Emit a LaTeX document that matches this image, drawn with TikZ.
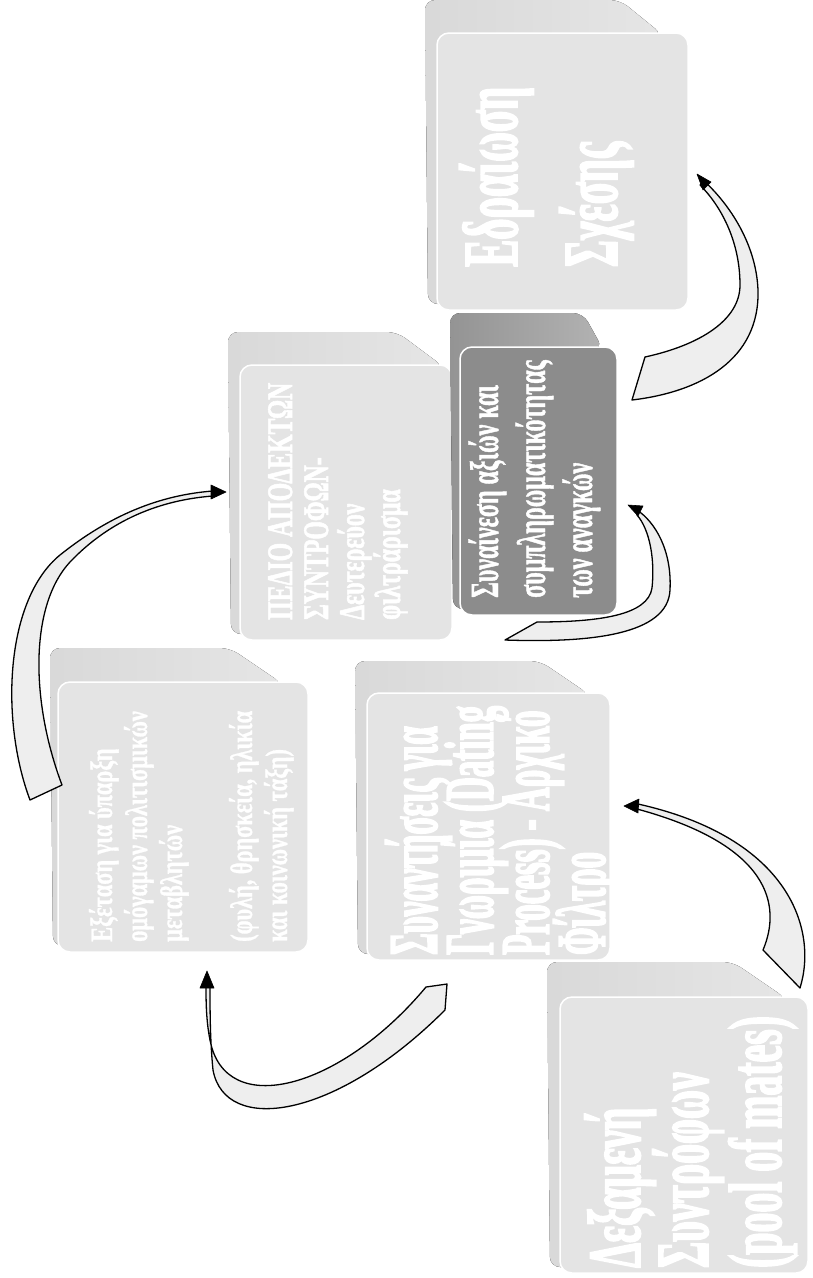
\documentclass[tikz,border=0pt]{standalone}
\usepackage{fontspec}
\setmainfont{Liberation Serif}
\newfontfamily\fA[UprightFont={* Bold}, FakeStretch=0.53, FakeBold=2]{Liberation Serif}
\newfontfamily\fB[UprightFont={* Bold}, FakeStretch=0.47, FakeBold=2]{Liberation Serif}
\newfontfamily\fC[UprightFont={* Bold}, FakeStretch=0.72, FakeBold=1]{Liberation Serif}
\newfontfamily\fD[UprightFont={* Bold}, FakeStretch=0.66, FakeBold=1.5]{Liberation Serif}
\newfontfamily\fE[UprightFont={* Bold}, FakeStretch=0.60, FakeBold=1]{Liberation Serif}
\newfontfamily\fF[UprightFont={* Bold}, FakeStretch=0.52, FakeBold=2]{Liberation Serif}
\definecolor{boxgray}{RGB}{228,228,228}
\definecolor{darkfront}{RGB}{140,140,140}
\definecolor{arrowfill}{RGB}{238,238,238}
\newcommand\drawcube[9]{%
  \fill[#9slab, rounded corners=10pt] ({#1-#5+3},{#4-6}) -- ({#1-#5},{#2-#6}) -- ({#3-#7},{#2-#6}) -- ({#3-#8},{#2+2}) -- ({#1+12},{#2+12}) -- ({#1+12},{#4-6}) -- cycle;
  \draw[#9front] (#1,#2) rectangle (#3,#4);
}
\begin{document}
\begin{tikzpicture}[x=1pt,y=-1pt,
  lslab/.style={left color=black!15, right color=black!10},
  lfront/.style={fill=boxgray, draw=white, line width=1.5pt, rounded corners=12pt},
  dslab/.style={left color=black!42, right color=black!30},
  dfront/.style={fill=darkfront, draw=white, line width=1.5pt, rounded corners=12pt},
  txt/.style={text=white, inner sep=0pt, anchor=base west, rotate=90},
  tA/.style={txt, font=\fA\fontsize{75}{75}\selectfont},
  tB/.style={txt, font=\fB\fontsize{70}{70}\selectfont},
  tC/.style={txt, font=\fC\fontsize{31}{31}\selectfont},
  tD/.style={txt, font=\fD\fontsize{36}{36}\selectfont},
  tE/.style={txt, font=\fE\fontsize{40}{40}\selectfont},
  tF/.style={txt, font=\fF\fontsize{78}{78}\selectfont},
  band/.style={fill=arrowfill, draw=black, line width=1.3pt, line join=round},
  head/.style={fill=black, draw=black, line width=0.6pt, line join=round}]
\fill[white] (0,0) rectangle (812,1278);
\useasboundingbox (0,0) rectangle (812,1278);

% boxes
\drawcube{58}{682}{308}{952}{8}{34}{78}{25}{l}
\drawcube{560}{997}{808}{1273}{13}{35}{75}{21}{l}
\drawcube{367}{693}{610}{960}{12}{32}{70}{20}{l}
\drawcube{240}{365}{452}{640}{12}{33}{55}{8}{l}
\drawcube{460}{347}{617}{615}{10}{34}{34}{14}{d}
\drawcube{437}{33}{688}{310}{12}{33}{68}{25}{l}

% texts
\node[tA] (a1) at (640,1268) {Δεξαμενή};
\node[tA] (a2) at (708,1268) {Συντρόφων};
\node[tA] (a3) at (781,1268) {(pool of mates)};

\node[tB] (b1) at (437,955) {Συναντήσεις για};
\node[tB] (b2) at (493,955) {Γνωριμία (Dating};
\node[tB] (b3) at (549,955) {Process) - Αρχικό};
\node[tB] (b4) at (605,955) {Φίλτρο};

\node[tC] (c1) at (112,942) {Εξέταση για ύπαρξη};
\node[tC] (c2) at (147,942) {ομόγαμων πολιτισμικών};
\node[tC] (c3) at (182,942) {μεταβλητών};
\node[tC] (c5) at (252,942) {(φυλή, θρησκεία, ηλικία};
\node[tC] (c6) at (287,942) {και κοινωνική τάξη)};

\node[tD] (d1) at (292,620) {ΠΕΔΙΟ ΑΠΟΔΕΚΤΩΝ};
\node[tD] (d2) at (328,620) {ΣΥΝΤΡΟΦΩΝ-};
\node[tD] (d3) at (364,620) {Δευτερεύον};
\node[tD] (d4) at (400,620) {φιλτράρισμα};

\node[tE] (e1) at (498,598) {Συναίνεση αξιών και};
\node[tE] (e2) at (545,598) {συμπληρωματικότητας};
\node[tE] (e3) at (592,598) {των αναγκών};

\node[tF] (f1) at (517,267) {Εδραίωση};
\node[tF] (f2) at (617,267) {Σχέσης};

% arrow A -> B
\draw[band] (800,988) .. controls (818,930) and (790,838) .. (638,804)
  -- (637,809) .. controls (770,845) and (782,905) .. (763,950) -- cycle;
\fill[head] (624,806) -- (639,799) -- (638,813) -- cycle;

% arrow B -> C
\draw[band] (447,984) -- (426,987) .. controls (340,1090) and (225,1120) .. (210,1040)
  .. controls (206,1020) and (206,1000) .. (206,985)
  -- (210,985) .. controls (210,1010) and (210,1040) .. (213,1070)
  .. controls (225,1135) and (335,1120) .. (445,1010) -- cycle;
\fill[head] (207,971) -- (200,988) -- (214,988) -- cycle;

% arrow C -> D
\draw[band] (30,800) .. controls (0,720) and (5,600) .. (60,555)
  .. controls (110,515) and (160,495) .. (213,491)
  -- (213,496) .. controls (160,500) and (110,520) .. (70,562)
  .. controls (30,605) and (30,700) .. (62,785) -- cycle;
\fill[head] (226,492) -- (211,485) -- (211,499) -- cycle;

% arrow D -> E
\draw[band] (505,640) .. controls (590,643) and (668,635) .. (670,590)
  .. controls (672,550) and (655,522) .. (637,510)
  -- (637,515) .. controls (650,530) and (655,560) .. (652,588)
  .. controls (648,615) and (600,622) .. (537,622) -- cycle;
\fill[head] (628,505) -- (643,506) -- (638,516) -- cycle;

% arrow E -> F
\draw[band] (632,400) .. controls (700,392) and (760,360) .. (758,290)
  .. controls (756,240) and (725,200) .. (704,181)
  -- (700,185) .. controls (720,205) and (740,240) .. (740,285)
  .. controls (740,320) and (700,345) .. (645,357) -- cycle;
\fill[head] (697,174) -- (711,182) -- (703,190) -- cycle;
\end{tikzpicture}
\end{document}
